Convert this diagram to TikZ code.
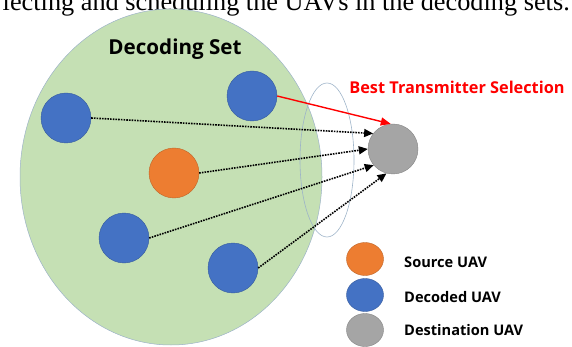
\documentclass[tikz,border=0pt]{standalone}
\usepackage{fontspec}
\setmainfont{Liberation Serif}
\newfontfamily\labelfont{Open Sans}
\usetikzlibrary{arrows.meta,shapes.geometric}
\definecolor{setgreen}{HTML}{C5E0B4}
\definecolor{setedge}{HTML}{9DB3C8}
\definecolor{uavblue}{HTML}{4472C4}
\definecolor{uavorange}{HTML}{ED7D31}
\definecolor{uavgray}{HTML}{A5A5A5}
\definecolor{bestred}{HTML}{FF0000}
\tikzset{
  uav/.style={circle, minimum size=50pt, inner sep=0pt, draw=#1!80!black, line width=0.4pt, fill=#1},
  legenduav/.style={ellipse, minimum width=37pt, minimum height=33pt, inner sep=0pt, draw=#1!80!black, line width=0.4pt, fill=#1},
  link/.style={black, line width=1.6pt, dash pattern=on 1.6pt off 1.1pt, -{Triangle[length=9pt,width=8pt]}},
  bestlink/.style={bestred, line width=1.4pt, -{Triangle[length=10pt,width=8pt]}},
  legendtext/.style={anchor=west, font=\labelfont\bfseries\fontsize{14.6}{16}\selectfont, inner sep=0pt},
}
\begin{document}
\begin{tikzpicture}[x=1pt,y=-1pt]
\useasboundingbox (0,0) rectangle (572,347);
% caption line from the surrounding page, cut by the top edge
\begin{scope}
\clip (0,0) rectangle (572,347);
\node[anchor=base east, inner sep=0pt, font=\fontsize{26.3}{28}\selectfont] (caption) at (570,11) {lecting and scheduling the UAVs in the decoding sets.};
\end{scope}
% decoding set region and the selection window
\node[ellipse, minimum width=302pt, minimum height=336pt, inner sep=0pt, fill=setgreen, draw=setedge, line width=0.5pt] (set) at (171,177) {};
\node[ellipse, minimum width=54pt, minimum height=154pt, inner sep=0pt, draw=setedge, line width=0.6pt] (window) at (327,160) {};
\node[font=\labelfont\bfseries\fontsize{20.6}{22}\selectfont, inner sep=0pt] (settitle) at (175,49) {Decoding Set};
% UAVs
\node[uav=uavblue] (b1) at (252,96) {};
\node[uav=uavblue] (b2) at (66,118) {};
\node[uav=uavorange] (src) at (174,173) {};
\node[uav=uavblue] (b3) at (124,238) {};
\node[uav=uavblue] (b4) at (233,268) {};
\node[uav=uavgray] (dest) at (393,149) {};
% links towards the destination
\draw[link] (b2.east) -- (dest.142);
\draw[link] (src.east) -- (dest.180);
\draw[link] (b3.east) -- (dest.220);
\draw[link] (b4.east) -- (dest.255);
\draw[bestlink] (b1.east) -- (dest.95);
\node[font=\labelfont\bfseries\fontsize{16.3}{18}\selectfont, text=bestred, inner sep=0pt] (besttitle) at (457,87) {Best Transmitter Selection};
% legend
\node[legenduav=uavorange] (lsrc) at (365,259) {};
\node[legenduav=uavblue] (ldec) at (365,295) {};
\node[legenduav=uavgray] (ldst) at (365,330) {};
\node[legendtext] (tsrc) at (404,262) {Source UAV};
\node[legendtext] (tdec) at (404,297) {Decoded UAV};
\node[legendtext] (tdst) at (404,330) {Destination UAV};
\end{tikzpicture}
\end{document}
